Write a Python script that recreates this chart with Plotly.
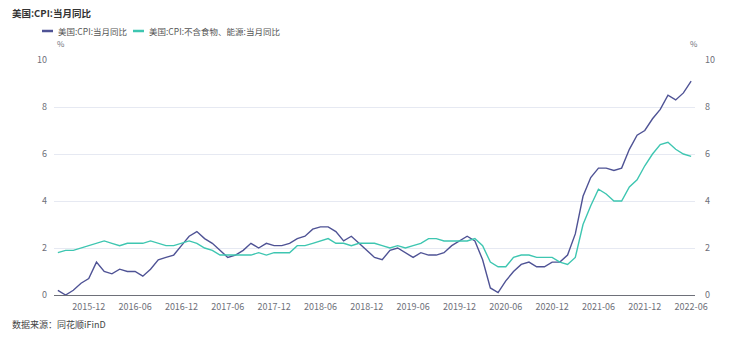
import pandas as pd
import plotly.graph_objects as go

months = [p.strftime("%Y-%m") for p in pd.period_range("2015-08", "2022-06", freq="M")]

cpi = [0.2, 0.0, 0.2, 0.5, 0.7,
       1.4, 1.0, 0.9, 1.1, 1.0, 1.0, 0.8, 1.1, 1.5, 1.6, 1.7, 2.1,
       2.5, 2.7, 2.4, 2.2, 1.9, 1.6, 1.7, 1.9, 2.2, 2.0, 2.2, 2.1,
       2.1, 2.2, 2.4, 2.5, 2.8, 2.9, 2.9, 2.7, 2.3, 2.5, 2.2, 1.9,
       1.6, 1.5, 1.9, 2.0, 1.8, 1.6, 1.8, 1.7, 1.7, 1.8, 2.1, 2.3,
       2.5, 2.3, 1.5, 0.3, 0.1, 0.6, 1.0, 1.3, 1.4, 1.2, 1.2, 1.4,
       1.4, 1.7, 2.6, 4.2, 5.0, 5.4, 5.4, 5.3, 5.4, 6.2, 6.8, 7.0,
       7.5, 7.9, 8.5, 8.3, 8.6, 9.1]

core = [1.8, 1.9, 1.9, 2.0, 2.1,
        2.2, 2.3, 2.2, 2.1, 2.2, 2.2, 2.2, 2.3, 2.2, 2.1, 2.1, 2.2,
        2.3, 2.2, 2.0, 1.9, 1.7, 1.7, 1.7, 1.7, 1.7, 1.8, 1.7, 1.8,
        1.8, 1.8, 2.1, 2.1, 2.2, 2.3, 2.4, 2.2, 2.2, 2.1, 2.2, 2.2,
        2.2, 2.1, 2.0, 2.1, 2.0, 2.1, 2.2, 2.4, 2.4, 2.3, 2.3, 2.3,
        2.3, 2.4, 2.1, 1.4, 1.2, 1.2, 1.6, 1.7, 1.7, 1.6, 1.6, 1.6,
        1.4, 1.3, 1.6, 3.0, 3.8, 4.5, 4.3, 4.0, 4.0, 4.6, 4.9, 5.5,
        6.0, 6.4, 6.5, 6.2, 6.0, 5.9]

tick_labels = ["2015-12", "2016-06", "2016-12", "2017-06", "2017-12", "2018-06",
               "2018-12", "2019-06", "2019-12", "2020-06", "2020-12", "2021-06",
               "2021-12", "2022-06"]
y_ticks = [0, 2, 4, 6, 8, 10]

series_names = ["美国:CPI:当月同比", "美国:CPI:不含食物、能源:当月同比"]
colors = ["#4f5395", "#3ec6b1"]

idx = list(range(len(months)))
tickvals = [months.index(t) for t in tick_labels]

FONT = "Noto Sans CJK SC, Noto Sans, sans-serif"
GRAY = "#6e7079"

fig = go.Figure()
fig.add_trace(go.Scatter(x=idx, y=cpi, mode="lines", name=series_names[0],
                         line=dict(color=colors[0], width=1.4), showlegend=False))
fig.add_trace(go.Scatter(x=idx, y=core, mode="lines", name=series_names[1],
                         line=dict(color=colors[1], width=1.4), showlegend=False))
# invisible trace to show right axis
fig.add_trace(go.Scatter(x=[idx[0]], y=[None], yaxis="y2", showlegend=False,
                         hoverinfo="skip"))

fig.update_layout(
    width=750, height=339,
    margin=dict(l=54, r=55, t=60, b=44),
    paper_bgcolor="white", plot_bgcolor="white",
    font=dict(family=FONT, size=9, color=GRAY),
    xaxis=dict(range=[-0.5, len(months) - 0.5], tickmode="array",
               tickvals=tickvals, ticktext=tick_labels, showgrid=False,
               showline=True, linecolor=GRAY, linewidth=1, zeroline=False,
               ticks="", ticklabelstandoff=3,
               tickfont=dict(size=9, color=GRAY), fixedrange=True),
    yaxis=dict(range=[0, 10], tickvals=y_ticks, showgrid=True,
               gridcolor="#e6e9f2", gridwidth=1, zeroline=False,
               showline=False, ticks="", ticklabelstandoff=6,
               tickfont=dict(size=9, color=GRAY)),
    yaxis2=dict(range=[0, 10], tickvals=y_ticks, overlaying="y", side="right",
                showgrid=False, zeroline=False, showline=False, ticks="",
                ticklabelstandoff=9, tickfont=dict(size=9, color=GRAY)),
)

anns = [
    dict(text="<b>" + series_names[0] + "</b>", px=10, py=13, size=9.5, color="#333333"),
    dict(text=series_names[0], px=56, py=31, size=8.5, color="#555555"),
    dict(text=series_names[1], px=147, py=31, size=8.5, color="#555555"),
    dict(text="%", px=55, py=44, size=8, color=GRAY),
    dict(text="%", px=688, py=44, size=8, color=GRAY),
    dict(text="数据来源：同花顺iFinD", px=10, py=324, size=9, color="#444444"),
]
W, H = 750, 339
pw, ph = W - 54 - 55, H - 60 - 44
for a in anns:
    fig.add_annotation(text=a["text"], xref="paper", yref="paper",
                       x=(a["px"] - 54) / pw, y=1 - (a["py"] - 60) / ph,
                       xanchor="left", yanchor="middle", showarrow=False,
                       font=dict(family=FONT, size=a["size"], color=a["color"]))

for i, (x0, x1) in enumerate([(42, 53), (133, 144)]):
    fig.add_shape(type="line", xref="paper", yref="paper",
                  x0=(x0 - 54) / pw, x1=(x1 - 54) / pw,
                  y0=1 - (31 - 60) / ph, y1=1 - (31 - 60) / ph,
                  line=dict(color=colors[i], width=2.5))

fig.write_html("out.html")
